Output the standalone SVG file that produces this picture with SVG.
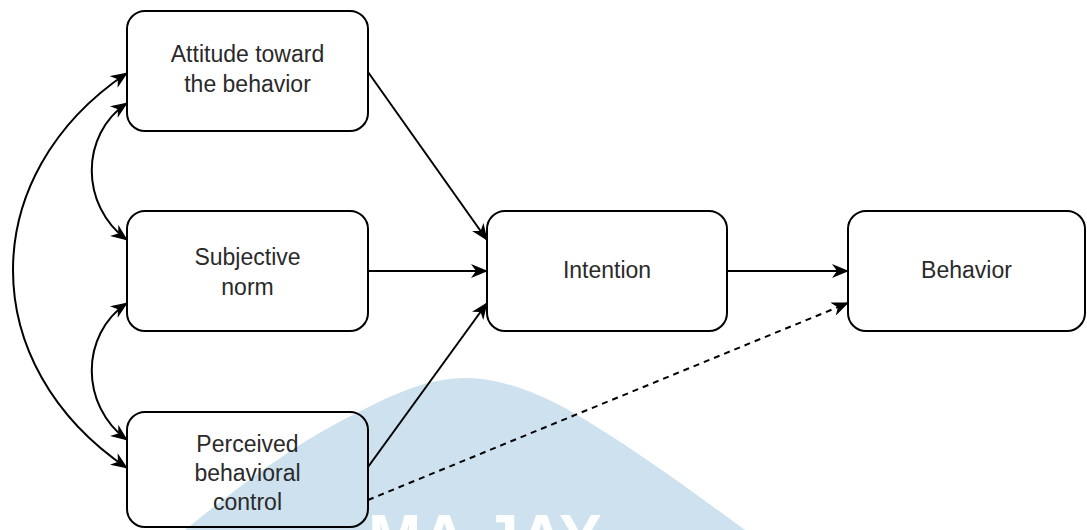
<svg xmlns="http://www.w3.org/2000/svg" width="1087" height="530" viewBox="0 0 1087 530">
<style>
.box{fill:none;stroke:#000;stroke-width:2}
.lbl{font-family:"Liberation Sans",Arial,sans-serif;font-size:23px;fill:#2a2a2a;text-anchor:middle}
.edge{fill:none;stroke:#000;stroke-width:2}
.dash{stroke-dasharray:6 5}
.wm{fill:#cde1ee}
.wmt{font-family:"Liberation Sans",Arial,sans-serif;font-weight:bold;font-size:64px;fill:#fff}
</style>
<defs>
<marker id="ar" markerUnits="userSpaceOnUse" viewBox="0 0 17 14" refX="16" refY="7" markerWidth="17" markerHeight="14" orient="auto-start-reverse">
<path d="M0,0 L17,7 L0,14 L5,7 Z" fill="#000"/>
</marker>
</defs>
<g id="watermark">
<path class="wm" d="M185,530 C240,485 300,440 357,413 C395,393 430,378 465,378 C500,378 535,392 565,408 C630,445 690,490 745,530 Z"/>
<text class="wmt" x="368" y="560">MA JAY</text>
</g>
<g id="connectors">
<path class="edge" d="M368,72 L487,240" marker-end="url(#ar)"/>
<path class="edge" d="M368,271 L487,271" marker-end="url(#ar)"/>
<path class="edge" d="M368,467 L487,303" marker-end="url(#ar)"/>
<path class="edge" d="M727,271 L848,271" marker-end="url(#ar)"/>
<path class="edge dash" d="M368,500 L848,303" marker-end="url(#ar)"/>
<path class="edge" d="M127,103 C80,135 80,205 127,240" marker-start="url(#ar)" marker-end="url(#ar)"/>
<path class="edge" d="M127,303 C80,335 80,405 127,440" marker-start="url(#ar)" marker-end="url(#ar)"/>
<path class="edge" d="M127,73 C-25,175 -25,365 127,468" marker-start="url(#ar)" marker-end="url(#ar)"/>
</g>
<g id="attitude">
<rect class="box" x="127" y="11" width="241" height="120" rx="18"/>
<text class="lbl" x="247.5" y="62">Attitude toward</text>
<text class="lbl" x="247.5" y="92">the behavior</text>
</g>
<g id="subjective">
<rect class="box" x="127" y="211" width="241" height="120" rx="18"/>
<text class="lbl" x="247.5" y="265">Subjective</text>
<text class="lbl" x="247.5" y="295">norm</text>
</g>
<g id="perceived">
<rect class="box" x="127" y="412" width="241" height="115" rx="18"/>
<text class="lbl" x="247.5" y="452">Perceived</text>
<text class="lbl" x="247.5" y="481">behavioral</text>
<text class="lbl" x="247.5" y="510">control</text>
</g>
<g id="intention">
<rect class="box" x="487" y="211" width="240" height="120" rx="18"/>
<text class="lbl" x="607" y="278">Intention</text>
</g>
<g id="behavior">
<rect class="box" x="848" y="211" width="237" height="120" rx="18"/>
<text class="lbl" x="966.5" y="278">Behavior</text>
</g>
</svg>
